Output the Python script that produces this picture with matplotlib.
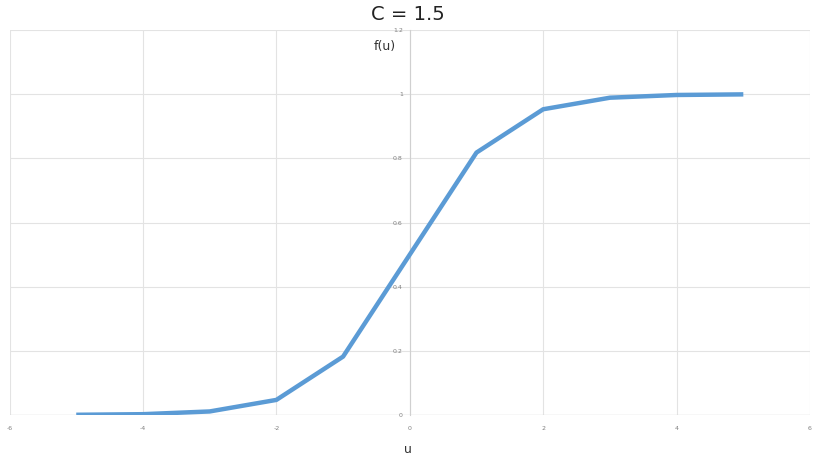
import matplotlib.pyplot as plt
import numpy as np

# sigmoid readings, C = 1.5
u_vals = [-5, -4, -3, -2, -1, 0, 1, 2, 3, 4, 5]
f_vals = [0.0006, 0.0025, 0.011, 0.047, 0.182, 0.5, 0.818, 0.953, 0.989, 0.9975, 0.9994]

x_ticks = [-6, -4, -2, 0, 2, 4, 6]
y_ticks = [0, 0.2, 0.4, 0.6, 0.8, 1, 1.2]
y_tick_labels = ["0", "0.2", "0.4", "0.6", "0.8", "1", "1.2"]

fig = plt.figure(figsize=(8.15, 4.59), dpi=100)
ax = fig.add_axes([0.0117, 0.0959, 0.9822, 0.8387])

ax.plot(u_vals, f_vals, color="#5B9BD5", linewidth=3.2, solid_capstyle="butt", zorder=3)

ax.set_xlim(-6, 6)
ax.set_ylim(0, 1.2)
ax.set_xticks(x_ticks)
ax.set_yticks(y_ticks)
ax.set_xticklabels([str(t) for t in x_ticks])
ax.set_yticklabels(y_tick_labels)

# Excel-like gridlines and axes crossing at origin
ax.grid(True, color="#e3e3e3", linewidth=0.8)
for s in ["top", "right", "bottom"]:
    ax.spines[s].set_visible(False)
ax.spines["left"].set_position(("data", 0))
ax.spines["left"].set_color("#d0d0d0")
ax.axhline(0, color="#d0d0d0", linewidth=0.9, zorder=2)
ax.tick_params(axis="both", length=0, labelsize=4.5, labelcolor="#7f7f7f")
ax.tick_params(axis="x", pad=8)
ax.tick_params(axis="y", pad=5)

fig.text(0.501, 0.968, "C = 1.5", ha="center", va="center", fontsize=14, color="#222222")
fig.text(0.472, 0.898, "f(u)", ha="center", va="center", fontsize=9, color="#333333")
fig.text(0.501, 0.02, "u", ha="center", va="center", fontsize=9, color="#333333")

fig.savefig("out.png", dpi=100)
